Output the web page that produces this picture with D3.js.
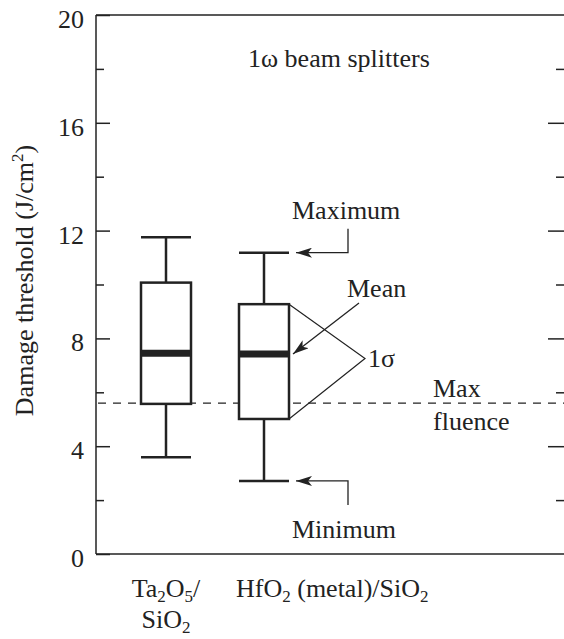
<!DOCTYPE html>
<html>
<head>
<meta charset="utf-8">
<script src="https://cdn.jsdelivr.net/npm/d3@7"></script>
<style>
  body { margin: 0; background: white; }
  text { font-family: "Liberation Serif", "Times New Roman", serif; fill: #222; }
</style>
</head>
<body>
<script>
// data (J/cm2)
const categories = ["Ta2O5/SiO2", "HfO2 (metal)/SiO2"];
const maxVals = [11.75, 11.18];
const upperVals = [10.07, 9.27];
const meanVals = [7.45, 7.42];
const lowerVals = [5.57, 5.01];
const minVals = [3.59, 2.71];
const maxFluence = 5.6;
const majorTicks = [0, 4, 8, 12, 16, 20];
const minorTicks = [2, 6, 10, 14, 18];

// x label lines: each segment is [text, isSubscript]
const catLabels = [
    [[["Ta", 0], ["2", 1], ["O", 0], ["5", 1], ["/", 0]], [["SiO", 0], ["2", 1]]],
    [[["HfO", 0], ["2", 1], [" (metal)/SiO", 0], ["2", 1]]]
];

var ink = "#222",
    fsize = 26,
    subsize = 17;

var box_w = 50;

var margin = {top: 15, right: 0, bottom: 85, left: 96},
    width = 564 - margin.left - margin.right,
    height = 639 - margin.top - margin.bottom - 0;

var svg = d3.select("body")
    .append("svg")
    .attr("width", 564)
    .attr("height", 639)
    .append("g")
        .attr("transform", "translate(" + margin.left + "," + margin.top + ")");

var y = d3.scaleLinear()
    .domain([0, 20])
    .range([539, 0]);

var x = d3.scalePoint()
    .domain(categories)
    .range([70, 168]);

svg.append("defs").append("marker")
    .attr("id", "arrow")
    .attr("viewBox", "0 0 16 10")
    .attr("refX", 16)
    .attr("refY", 5)
    .attr("markerWidth", 16)
    .attr("markerHeight", 10)
    .attr("markerUnits", "userSpaceOnUse")
    .attr("orient", "auto")
    .append("path")
    .attr("d", "M0,0 L16,5 L0,10 L4,5 Z")
    .attr("fill", ink);

// ==== frame ====
svg.append("line")
    .attr("x1", 0).attr("x2", width)
    .attr("y1", y(20)).attr("y2", y(20))
    .attr("stroke", ink).attr("stroke-width", 1.5);
svg.append("line")
    .attr("x1", 0).attr("x2", width)
    .attr("y1", y(0)).attr("y2", y(0))
    .attr("stroke", ink).attr("stroke-width", 1.5);
svg.append("line")
    .attr("x1", 0).attr("x2", 0)
    .attr("y1", y(0)).attr("y2", y(20))
    .attr("stroke", ink).attr("stroke-width", 1.5);

// ==== y axes ====
var left_major = svg.append("g")
    .call(d3.axisLeft(y).tickValues(majorTicks).tickSize(-14).tickPadding(12));
var left_minor = svg.append("g")
    .call(d3.axisLeft(y).tickValues(minorTicks).tickSize(-8).tickFormat(""));
var right_major = svg.append("g")
    .attr("transform", "translate(" + width + ",0)")
    .call(d3.axisRight(y).tickValues(majorTicks.filter(d => d > 0 && d < 20)).tickSize(-16).tickFormat(""));
var right_minor = svg.append("g")
    .attr("transform", "translate(" + width + ",0)")
    .call(d3.axisRight(y).tickValues(minorTicks).tickSize(-8).tickFormat(""));

[left_major, left_minor, right_major, right_minor].forEach(function(g) {
    g.select(".domain").remove();
    g.selectAll(".tick line").attr("stroke", ink).attr("stroke-width", 1.5);
});
left_major.selectAll(".tick text")
    .attr("font-family", '"Liberation Serif", serif')
    .attr("font-size", fsize + "px")
    .attr("fill", ink)
    .attr("dy", "0.48em");

svg.append("text")
    .attr("transform", "translate(-63," + (y(10) - 4) + ") rotate(-90)")
    .attr("text-anchor", "middle")
    .attr("font-size", fsize + "px")
    .call(function(t) {
        t.append("tspan").text("Damage threshold (J/cm");
        t.append("tspan").text("2").attr("font-size", subsize + "px").attr("dy", -10);
        t.append("tspan").text(")").attr("dy", 10);
    });

// ==== max fluence ====
svg.append("line")
    .attr("x1", 2).attr("x2", width)
    .attr("y1", y(maxFluence)).attr("y2", y(maxFluence))
    .attr("stroke", ink)
    .attr("stroke-width", 1.2)
    .attr("stroke-dasharray", "8,7");

// ==== boxes ====
var boxes = svg.selectAll("g.box")
    .data(categories)
    .enter().append("g")
    .attr("class", "box");

boxes.append("line")
    .attr("x1", d => x(d)).attr("x2", d => x(d))
    .attr("y1", (d, i) => y(maxVals[i])).attr("y2", (d, i) => y(minVals[i]))
    .attr("stroke", ink).attr("stroke-width", 2.5);

boxes.append("rect")
    .attr("x", d => x(d) - box_w / 2)
    .attr("y", (d, i) => y(upperVals[i]))
    .attr("width", box_w)
    .attr("height", (d, i) => y(lowerVals[i]) - y(upperVals[i]))
    .attr("fill", "white")
    .attr("stroke", ink).attr("stroke-width", 2.5);

boxes.append("line")
    .attr("x1", d => x(d) - box_w / 2).attr("x2", d => x(d) + box_w / 2)
    .attr("y1", (d, i) => y(meanVals[i])).attr("y2", (d, i) => y(meanVals[i]))
    .attr("stroke", ink).attr("stroke-width", 7);

boxes.append("line")
    .attr("x1", d => x(d) - box_w / 2).attr("x2", d => x(d) + box_w / 2)
    .attr("y1", (d, i) => y(maxVals[i])).attr("y2", (d, i) => y(maxVals[i]))
    .attr("stroke", ink).attr("stroke-width", 2.5);

boxes.append("line")
    .attr("x1", d => x(d) - box_w / 2).attr("x2", d => x(d) + box_w / 2)
    .attr("y1", (d, i) => y(minVals[i])).attr("y2", (d, i) => y(minVals[i]))
    .attr("stroke", ink).attr("stroke-width", 2.5);

// ==== x labels ====
function subText(sel, segs) {
    segs.forEach(function(s, j) {
        var prevSub = j > 0 && segs[j - 1][1];
        var ts = sel.append("tspan").text(s[0]);
        if (s[1]) ts.attr("font-size", subsize + "px").attr("dy", prevSub ? 0 : 5);
        else if (prevSub) ts.attr("dy", -5);
    });
}

catLabels.forEach(function(lines, i) {
    lines.forEach(function(segs, k) {
        var t = svg.append("text")
            .attr("y", y(0) + 43 + k * 31)
            .attr("font-size", fsize + "px");
        if (i === 0) t.attr("x", x(categories[i])).attr("text-anchor", "middle");
        else t.attr("x", x(categories[i]) - 28).attr("text-anchor", "start");
        subText(t, segs);
    });
});

// ==== annotations (on the second box) ====
var xc = x(categories[1]);

svg.append("text")
    .attr("x", (x(categories[0]) + xc) / 2 + 33)
    .attr("y", 52)
    .attr("font-size", fsize + "px")
    .text("1\u03c9 beam splitters");

function elbow(yv, dir) {
    var yy = y(yv);
    svg.append("path")
        .attr("d", "M" + (xc + 84) + "," + (yy + dir * 24) + "V" + yy + "H" + (xc + 32))
        .attr("fill", "none")
        .attr("stroke", ink).attr("stroke-width", 1.3)
        .attr("marker-end", "url(#arrow)");
}
elbow(maxVals[1], -1);
elbow(minVals[1], 1);

svg.append("text")
    .attr("x", xc + 28).attr("y", y(maxVals[1]) - 34)
    .attr("font-size", fsize + "px")
    .text("Maximum");
svg.append("text")
    .attr("x", xc + 28).attr("y", y(minVals[1]) + 57)
    .attr("font-size", fsize + "px")
    .text("Minimum");

svg.append("line")
    .attr("x1", xc + 95).attr("y1", y(meanVals[1]) - 51)
    .attr("x2", xc + 29).attr("y2", y(meanVals[1]))
    .attr("stroke", ink).attr("stroke-width", 1.3)
    .attr("marker-end", "url(#arrow)");
svg.append("text")
    .attr("x", xc + 83).attr("y", y(meanVals[1]) - 57)
    .attr("font-size", fsize + "px")
    .text("Mean");

var sig_mid = (y(upperVals[1]) + y(lowerVals[1])) / 2;
svg.append("path")
    .attr("d", "M" + (xc + box_w / 2) + "," + y(upperVals[1]) +
               "L" + (xc + 101) + "," + (sig_mid - 3) +
               "L" + (xc + box_w / 2) + "," + y(lowerVals[1]))
    .attr("fill", "none")
    .attr("stroke", ink).attr("stroke-width", 1.2);
svg.append("text")
    .attr("x", xc + 104).attr("y", sig_mid + 5)
    .attr("font-size", fsize + "px")
    .text("1\u03c3");

svg.append("text")
    .attr("x", xc + 169).attr("y", y(maxFluence) - 6)
    .attr("font-size", fsize + "px")
    .text("Max");
svg.append("text")
    .attr("x", xc + 169).attr("y", y(maxFluence) + 27)
    .attr("font-size", fsize + "px")
    .text("fluence");
</script>
</body>
</html>
